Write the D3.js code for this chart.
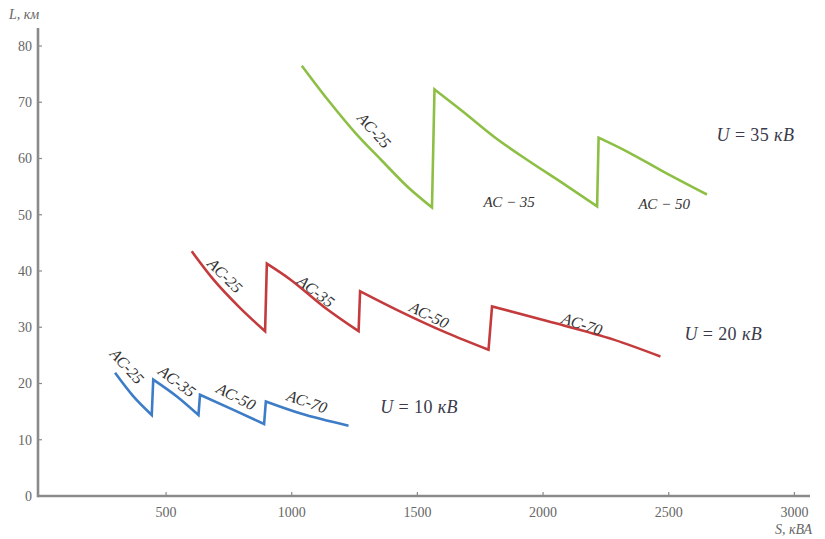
<!DOCTYPE html>
<html>
<head>
<meta charset="utf-8">
<script src="https://cdn.jsdelivr.net/npm/d3@7"></script>
<style>
  html, body { margin: 0; padding: 0; background: #fff; }
  svg { display: block; }
  text { font-family: "Liberation Serif", "DejaVu Serif", serif; }
</style>
</head>
<body>
<svg id="chart" width="825" height="539"></svg>
<script>
// Permissible line length L (km) versus transmitted power S (kVA),
// one sawtooth curve per voltage level, one arc per conductor section.

const xTicks = [500, 1000, 1500, 2000, 2500, 3000];
const yTicks = [0, 10, 20, 30, 40, 50, 60, 70, 80];

// U = 35 kV
const u35_ac25 = [[1040, 76.5], [1146, 70.3], [1252, 64.6], [1359, 59.6], [1465, 54.8], [1558, 51.3]];
const u35_ac35 = [[1568, 72.3], [1677, 68.5], [1810, 63.7], [1942, 59.6], [2075, 55.7], [2215, 51.5]];
const u35_ac50 = [[2221, 63.7], [2340, 61.1], [2473, 57.8], [2652, 53.6]];

// U = 20 kV
const u20_ac25 = [[602, 43.5], [688, 38.5], [795, 33.4], [894, 29.3]];
const u20_ac35 = [[901, 41.3], [994, 38.5], [1126, 33.7], [1266, 29.3]];
const u20_ac50 = [[1272, 36.4], [1418, 33.1], [1617, 29.0], [1783, 26.0]];
const u20_ac70 = [[1797, 33.7], [2016, 31.1], [2281, 27.8], [2467, 24.8]];

// U = 10 kV
const u10_ac25 = [[297, 21.9], [370, 17.7], [443, 14.4]];
const u10_ac35 = [[449, 20.7], [543, 17.7], [629, 14.4]];
const u10_ac50 = [[635, 18.0], [768, 15.3], [890, 12.8]];
const u10_ac70 = [[897, 16.8], [1033, 14.7], [1226, 12.5]];

const curves = [
  { name: "U35", color: "#8dbf45", sections: [u35_ac25, u35_ac35, u35_ac50] },
  { name: "U20", color: "#c43b3d", sections: [u20_ac25, u20_ac35, u20_ac50, u20_ac70] },
  { name: "U10", color: "#3d7cc6", sections: [u10_ac25, u10_ac35, u10_ac50, u10_ac70] }
];

// Section labels placed along the curves (data coordinates, rotation in degrees)
const sectionLabels = [
  { text: "АС-25", x: 1328, y: 65.0, angle: 48, size: 16 },
  { text: "АС − 35", x: 1865, y: 52.4, angle: 0, size: 15 },
  { text: "АС − 50", x: 2482, y: 52.0, angle: 0, size: 15 },
  { text: "АС-25", x: 735, y: 39.2, angle: 45, size: 16 },
  { text: "АС-35", x: 1097, y: 36.4, angle: 38, size: 16 },
  { text: "АС-50", x: 1547, y: 32.2, angle: 26, size: 16 },
  { text: "АС-70", x: 2156, y: 30.6, angle: 18, size: 16 },
  { text: "АС-25", x: 345, y: 23.1, angle: 48, size: 16 },
  { text: "АС-35", x: 544, y: 20.4, angle: 37, size: 16 },
  { text: "АС-50", x: 779, y: 17.7, angle: 27, size: 16 },
  { text: "АС-70", x: 1061, y: 16.8, angle: 19, size: 16 }
];

const voltageLabels = [
  { u: "35", x: 2845, y: 64.3 },
  { u: "20", x: 2717, y: 28.9 },
  { u: "10", x: 1507, y: 15.9 }
];

const svg = d3.select("#chart");

const x = d3.scaleLinear().domain([0, 3000]).range([40.4, 794.4]);
const y = d3.scaleLinear().domain([0, 80]).range([496, 46]);

const axisColor = "#8a8a8a";
const labelColor = "#666";

// Axes
const yAxisX = 38;
const xAxisG = svg.append("g").attr("transform", `translate(0,${y(0)})`);
xAxisG.append("line")
  .attr("x1", yAxisX).attr("x2", 810).attr("y1", 0).attr("y2", 0)
  .attr("stroke", axisColor).attr("stroke-width", 2.6);
xAxisG.selectAll(".xt").data(xTicks).enter().append("line")
  .attr("x1", d => x(d)).attr("x2", d => x(d)).attr("y1", 0).attr("y2", -4)
  .attr("stroke", axisColor).attr("stroke-width", 1.2);
xAxisG.selectAll(".xl").data(xTicks).enter().append("text")
  .attr("x", d => x(d)).attr("y", 21)
  .attr("text-anchor", "middle")
  .attr("font-size", 14).attr("fill", labelColor)
  .text(d => d);

const yAxisG = svg.append("g").attr("transform", `translate(${yAxisX},0)`);
yAxisG.append("line")
  .attr("x1", 0).attr("x2", 0).attr("y1", 28).attr("y2", y(0) + 1.3)
  .attr("stroke", axisColor).attr("stroke-width", 2.6);
yAxisG.selectAll(".yt").data(yTicks.filter(d => d > 0)).enter().append("line")
  .attr("x1", 0).attr("x2", 4).attr("y1", d => y(d)).attr("y2", d => y(d))
  .attr("stroke", axisColor).attr("stroke-width", 1.2);
yAxisG.selectAll(".yl").data(yTicks).enter().append("text")
  .attr("x", -6).attr("y", d => y(d))
  .attr("dy", "0.35em")
  .attr("text-anchor", "end")
  .attr("font-size", 14).attr("fill", labelColor)
  .text(d => d);

// Axis titles
svg.append("text")
  .attr("x", 9).attr("y", 19)
  .attr("font-size", 14).attr("font-style", "italic").attr("fill", "#666")
  .text("L, км");
svg.append("text")
  .attr("x", 812).attr("y", 534)
  .attr("text-anchor", "end")
  .attr("font-size", 14).attr("font-style", "italic").attr("fill", "#666")
  .text("S, кВА");

// Curves: each section is a smooth arc, consecutive sections joined by a vertical jump
const arc = d3.line()
  .x(d => x(d[0]))
  .y(d => y(d[1]))
  .curve(d3.curveMonotoneX);

svg.selectAll(".curve").data(curves).enter().append("path")
  .attr("class", "curve")
  .attr("d", c => c.sections.map((s, i) => {
    const p = arc(s);
    return i === 0 ? p : p.replace(/^M/, "L");
  }).join(""))
  .attr("fill", "none")
  .attr("stroke", c => c.color)
  .attr("stroke-width", 2.6)
  .attr("stroke-linejoin", "miter");

// Section labels
svg.selectAll(".sec").data(sectionLabels).enter().append("text")
  .attr("transform", d => `translate(${x(d.x)},${y(d.y)}) rotate(${d.angle})`)
  .attr("text-anchor", "middle")
  .attr("dy", "0.35em")
  .attr("font-size", d => d.size).attr("font-style", "italic").attr("fill", "#333")
  .text(d => d.text);

// Voltage labels
const vl = svg.selectAll(".vl").data(voltageLabels).enter().append("text")
  .attr("x", d => x(d.x)).attr("y", d => y(d.y))
  .attr("dy", "0.35em")
  .attr("text-anchor", "middle")
  .attr("font-size", 18).attr("letter-spacing", 0.4).attr("fill", "#3a3a4a");
vl.append("tspan").attr("font-style", "italic").text("U");
vl.append("tspan").text(d => " = " + d.u + " ");
vl.append("tspan").attr("font-style", "italic").text("кВ");
</script>
</body>
</html>
